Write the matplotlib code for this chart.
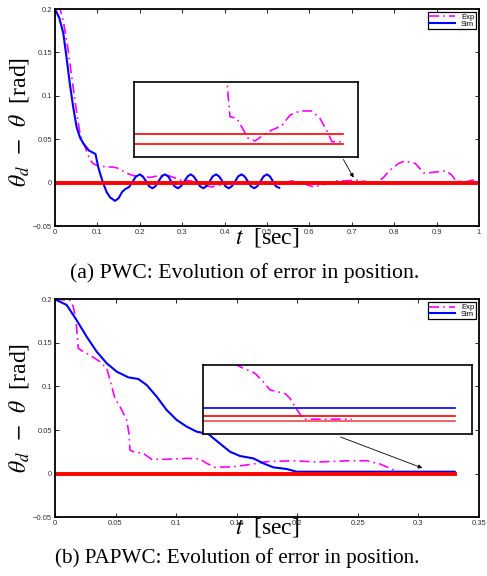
import matplotlib
matplotlib.use("Agg")
import matplotlib.pyplot as plt

plt.rcParams["mathtext.fontset"] = "stix"

# ---------------- (a) PWC ----------------
t_sim_a = [0.0, 0.01, 0.0197, 0.027, 0.035, 0.043, 0.051, 0.059, 0.067, 0.08, 0.0955,
           0.102, 0.108, 0.114, 0.122, 0.13, 0.1415, 0.15, 0.158, 0.165, 0.175, 0.183,
           0.19, 0.2, 0.207, 0.215, 0.222, 0.23, 0.237, 0.244, 0.252, 0.259, 0.267,
           0.274, 0.282, 0.29, 0.297, 0.305, 0.313, 0.32, 0.327, 0.335, 0.342, 0.35,
           0.357, 0.365, 0.372, 0.38, 0.387, 0.395, 0.402, 0.41, 0.417, 0.425, 0.432,
           0.44, 0.447, 0.455, 0.462, 0.47, 0.477, 0.485, 0.492, 0.5, 0.507, 0.514,
           0.521, 0.529]
sim_a = [0.2, 0.19, 0.172, 0.145, 0.114, 0.087, 0.064, 0.052, 0.045, 0.037, 0.033,
         0.018, 0.008, -0.001, -0.011, -0.017, -0.021, -0.018, -0.011, -0.0077, -0.005, 0.001,
         0.0065, 0.0095, 0.0072, 0.0015, -0.0042, -0.0065, -0.0042, 0.0015, 0.0072, 0.0095, 0.0072,
         0.0015, -0.0042, -0.0065, -0.0042, 0.0015, 0.0072, 0.0095, 0.0072, 0.0015, -0.0042, -0.0065,
         -0.0042, 0.0015, 0.0072, 0.0095, 0.0072, 0.0015, -0.0042, -0.0065, -0.0042, 0.0015, 0.0072,
         0.0095, 0.0072, 0.0015, -0.0042, -0.0065, -0.0042, 0.0015, 0.0072, 0.0095, 0.0072, 0.0015,
         -0.0042, -0.006]

t_exp_a = [0.008, 0.012, 0.02, 0.031, 0.04, 0.047, 0.053, 0.059, 0.065, 0.071, 0.077,
           0.083, 0.09, 0.098, 0.11, 0.122, 0.135, 0.146, 0.158, 0.169, 0.185, 0.205,
           0.224, 0.245, 0.263, 0.28, 0.295, 0.32, 0.345, 0.37, 0.395, 0.42, 0.45,
           0.48, 0.52, 0.56, 0.585, 0.61, 0.635, 0.66, 0.685, 0.71, 0.735, 0.755,
           0.775, 0.79, 0.81, 0.825, 0.85, 0.87, 0.895, 0.922, 0.935, 0.946, 0.97,
           0.985, 1.0]
exp_a = [0.205, 0.2, 0.185, 0.153, 0.12, 0.095, 0.075, 0.057, 0.047, 0.041, 0.033,
         0.026, 0.022, 0.02, 0.019, 0.018, 0.018, 0.017, 0.014, 0.011, 0.008, 0.007,
         0.006, 0.008, 0.0088, 0.006, 0.003, 0.002, -0.002, -0.005, -0.002, 0.0, 0.001,
         0.0, -0.002, 0.002, -0.001, -0.005, -0.002, 0.002, 0.002, 0.003, 0.001, -0.001,
         0.006, 0.0145, 0.022, 0.025, 0.022, 0.011, 0.012, 0.0138, 0.009, 0.002, 0.001,
         0.003, 0.0]
t_ref_a = [0.0, 1.0]
ref_a = [0.0, 0.0]

# zoomed view of (a) around t = 0.7
t_zoom_a = [0.6847, 0.6853, 0.6857, 0.6875, 0.6888, 0.6906, 0.6924, 0.6947, 0.6969,
            0.6995, 0.7018, 0.7045, 0.7076, 0.7098, 0.712, 0.713, 0.7156]
exp_zoom_a = [0.0045, 0.0026, 0.00149, 0.00138, 0.00082, 0.00005, -0.00013, 0.00027, 0.0006,
              0.00087, 0.0016, 0.00187, 0.00187, 0.00138, 0.00038, -0.00018, -0.00018]
t_zoom_ref_a = [0.66, 0.716]
ref_zoom_hi_a = [0.00035, 0.00035]
ref_zoom_lo_a = [-0.0003, -0.0003]

# ---------------- (b) PAPWC ----------------
t_sim_b = [0.0, 0.00963, 0.0179, 0.0262, 0.0344, 0.0427, 0.051, 0.0605, 0.0688, 0.0757,
           0.084, 0.0922, 0.1005, 0.1087, 0.117, 0.1266, 0.1335, 0.1445, 0.1527, 0.1637,
           0.172, 0.1802, 0.1912, 0.1995, 0.33]
sim_b = [0.2, 0.1935, 0.176, 0.157, 0.14, 0.1266, 0.117, 0.1105, 0.1086, 0.1017,
         0.0883, 0.073, 0.0616, 0.054, 0.0482, 0.0455, 0.0376, 0.0252, 0.0203, 0.0176,
         0.0119, 0.0073, 0.0054, 0.0023, 0.0023]

t_exp_b = [0.0, 0.0124, 0.0151, 0.0173, 0.0192, 0.0234, 0.0289, 0.0372, 0.0427, 0.0454,
           0.0495, 0.0537, 0.0592, 0.0612, 0.0619, 0.0646, 0.0729, 0.0798, 0.0922, 0.1087,
           0.1197, 0.1252, 0.1321, 0.1472, 0.1637, 0.1747, 0.1967, 0.216, 0.2435, 0.2573,
           0.2683, 0.2766, 0.2834, 0.33]
exp_b = [0.2, 0.199, 0.1915, 0.176, 0.1438, 0.14, 0.136, 0.1284, 0.1209, 0.1075,
         0.0865, 0.0768, 0.0616, 0.045, 0.0272, 0.0252, 0.0233, 0.0165, 0.0165, 0.0176,
         0.0169, 0.0119, 0.0073, 0.008, 0.0111, 0.0138, 0.0149, 0.0134, 0.0149, 0.0149,
         0.0111, 0.0062, 0.002, 0.0015]
t_ref_b = [0.0, 0.33]
ref_b = [0.0, 0.0]

# zoomed view of (b) near the end
t_zoom_b = [0.2866, 0.2872, 0.2889, 0.2906, 0.2923, 0.2937, 0.2951, 0.2968, 0.2978,
            0.2988, 0.2997, 0.3005, 0.3104]
exp_zoom_b = [0.0135, 0.0126, 0.0117, 0.0108, 0.0087, 0.0066, 0.0062, 0.0057, 0.0045,
              0.0024, 0.0008, -0.0007, -0.0007]
t_zoom_line_b = [0.28, 0.3315]
sim_zoom_b = [0.002, 0.002]
ref_zoom_hi_b = [0.0, 0.0]
ref_zoom_lo_b = [-0.0011, -0.0011]

xticks_a = [0, 0.1, 0.2, 0.3, 0.4, 0.5, 0.6, 0.7, 0.8, 0.9, 1.0]
xlabels_a = ["0", "0.1", "0.2", "0.3", "0.4", "0.5", "0.6", "0.7", "0.8", "0.9", "1"]
xticks_b = [0, 0.05, 0.1, 0.15, 0.2, 0.25, 0.3, 0.35]
xlabels_b = ["0", "0.05", "0.1", "0.15", "0.2", "0.25", "0.3", "0.35"]
yticks = [-0.05, 0, 0.05, 0.1, 0.15, 0.2]
ylabels = ["\u22120.05", "0", "0.05", "0.1", "0.15", "0.2"]

MAG = "#ff00ff"
BLUE = "#0000ff"
RED = "#ff0000"
DASHDOT = (0, (6, 2.5, 1, 2.5))
tickfont = dict(family="Liberation Sans", size=5.5, color="#333333")


def style_main(ax, xticks, xlabels, xmax, ylab_y, xlab_y):
    ax.set_xlim(0, xmax)
    ax.set_ylim(-0.05, 0.2)
    ax.set_xticks(xticks)
    ax.set_xticklabels(xlabels, fontdict=tickfont)
    ax.set_yticks(yticks)
    ax.set_yticklabels(ylabels, fontdict=tickfont)
    ax.tick_params(direction="in", top=True, right=True, length=3, width=0.6, pad=2)
    for s in ax.spines.values():
        s.set_linewidth(1.3)
    ax.set_ylabel(r"$\theta_d\ \,-\ \,\theta$  [rad]", fontsize=17, family="Liberation Serif")
    ax.yaxis.set_label_coords(-0.085, ylab_y)
    ax.yaxis.label.set_va("center")
    ax.set_xlabel(r"$t$  [sec]", fontsize=17, family="Liberation Serif")
    ax.xaxis.set_label_coords(0.5, xlab_y)
    ax.xaxis.label.set_va("center")
    leg = ax.legend(loc="upper right", fontsize=5.5, fancybox=False, edgecolor="black",
                    framealpha=1, handlelength=3.4, borderpad=0.2, labelspacing=-0.1,
                    borderaxespad=0.4, handletextpad=0.8)
    leg.get_frame().set_linewidth(0.9)
    for txt in leg.get_texts():
        txt.set_family("Liberation Sans")


def style_inset(ax):
    ax.set_xticks([])
    ax.set_yticks([])
    for s in ax.spines.values():
        s.set_linewidth(1.2)


fig = plt.figure(figsize=(4.87, 5.76), dpi=100)

# (a)
ax1 = fig.add_axes([0.1129, 0.6076, 0.8706, 0.3767])
ax1.plot(t_exp_a, exp_a, color=MAG, lw=1.2, ls=DASHDOT, label="Exp")
ax1.plot(t_sim_a, sim_a, color=BLUE, lw=1.5, label="Sim")
ax1.plot(t_ref_a, ref_a, color=RED, lw=2.8)
style_main(ax1, xticks_a, xlabels_a, 1.0, 0.48, -0.055)
ax1.annotate("", xy=(0.7075, 0.003), xytext=(0.677, 0.0295),
             arrowprops=dict(arrowstyle="-|>", color="black", lw=0.6,
                             mutation_scale=6))

in1 = fig.add_axes([0.2752, 0.7274, 0.46, 0.1302])
in1.plot(t_zoom_a, exp_zoom_a, color=MAG, lw=1.2, ls=DASHDOT)
in1.plot(t_zoom_ref_a, ref_zoom_hi_a, color=RED, lw=1.2)
in1.plot(t_zoom_ref_a, ref_zoom_lo_a, color=RED, lw=1.2)
in1.set_xlim(0.66, 0.72)
in1.set_ylim(-0.0012, 0.0038)
style_inset(in1)

# (b)
ax2 = fig.add_axes([0.1129, 0.1019, 0.8706, 0.3785])
ax2.plot(t_exp_b, exp_b, color=MAG, lw=1.2, ls=DASHDOT, label="Exp")
ax2.plot(t_sim_b, sim_b, color=BLUE, lw=1.5, label="Sim")
ax2.plot(t_ref_b, ref_b, color=RED, lw=2.8)
style_main(ax2, xticks_b, xlabels_b, 0.35, 0.5, -0.049)
ax2.annotate("", xy=(0.3054, 0.0054), xytext=(0.2336, 0.0432),
             arrowprops=dict(arrowstyle="-|>", color="black", lw=0.6,
                             mutation_scale=6))

in2 = fig.add_axes([0.4168, 0.2465, 0.5524, 0.1198])
in2.plot(t_zoom_b, exp_zoom_b, color=MAG, lw=1.2, ls=DASHDOT)
in2.plot(t_zoom_line_b, sim_zoom_b, color=BLUE, lw=1.2)
in2.plot(t_zoom_line_b, ref_zoom_hi_b, color=RED, lw=1.2)
in2.plot(t_zoom_line_b, ref_zoom_lo_b, color="#f04848", lw=1.2)
in2.set_xlim(0.28, 0.335)
in2.set_ylim(-0.00441, 0.01283)
style_inset(in2)

fig.text(245 / 487, 1 - 273 / 576, "(a) PWC: Evolution of error in position.",
         ha="center", va="center", fontsize=15.7, family="Liberation Serif")
fig.text(237 / 487, 1 - 558 / 576, "(b) PAPWC: Evolution of error in position.",
         ha="center", va="center", fontsize=15.2, family="Liberation Serif")

fig.savefig("out.png", dpi=100)
